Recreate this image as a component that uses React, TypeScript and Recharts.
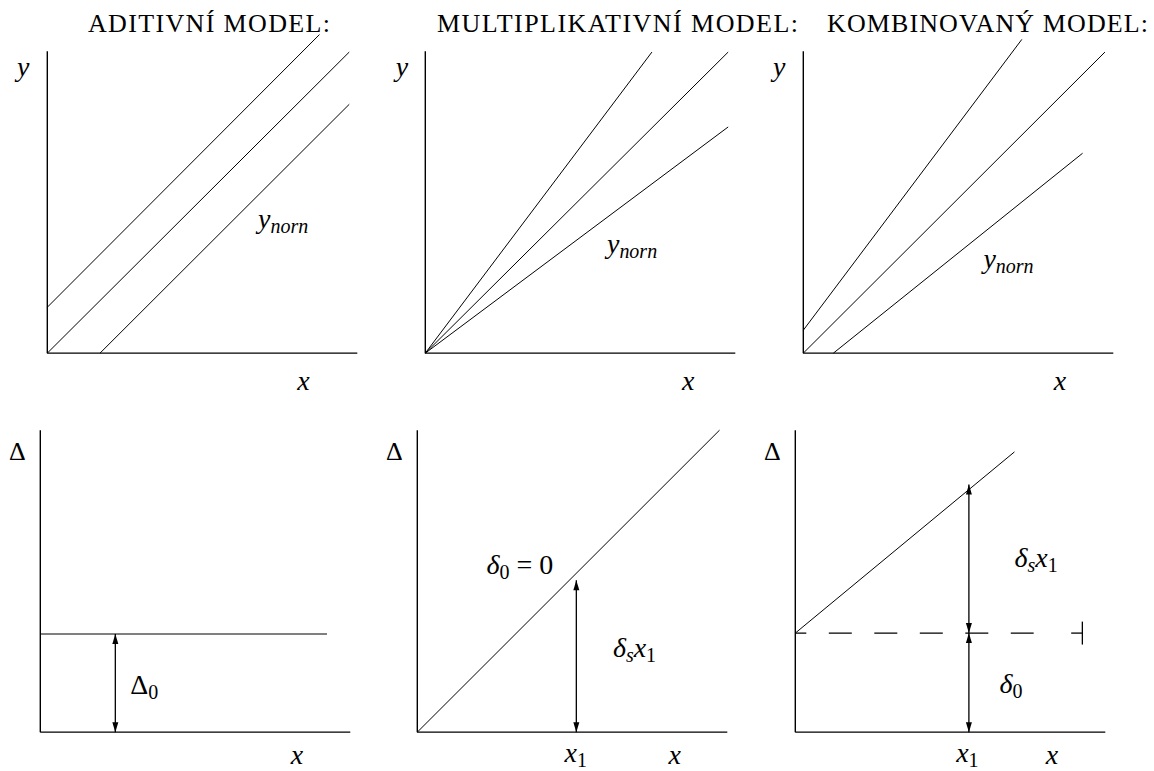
import React from 'react';
import { LineChart, Line, XAxis, YAxis, ReferenceLine, ReferenceDot } from 'recharts';

type Pt = { x: number; y: number };

// size of one unit on each axis, px
const UX = 31;
const UY = 30.2;
const X_MIN = -1.3;
const X_MAX = 10.7;
const Y_MIN = -1.6;
const Y_MAX = 10.8;
const AXIS_LEN = 10;

const FONT = '"Liberation Serif", "Times New Roman", serif';
const MATH_SIZE = 28;
const SUB_SIZE = 20;

const titles = ['ADITIVNÍ MODEL:', 'MULTIPLIKATIVNÍ MODEL:', 'KOMBINOVANÝ MODEL:'];
const titleX = [88, 437, 827];
const titleW = [242, 361, 321];

// y against x, top row
const additiveLines: Pt[][] = [
  [{ x: 0, y: 1.52 }, { x: 8.78, y: 10.55 }],
  [{ x: 0, y: 0 }, { x: 9.74, y: 9.97 }],
  [{ x: 1.7, y: 0 }, { x: 9.74, y: 8.24 }],
];
const multiplicativeLines: Pt[][] = [
  [{ x: 0, y: 0 }, { x: 7.31, y: 9.97 }],
  [{ x: 0, y: 0 }, { x: 9.77, y: 9.97 }],
  [{ x: 0, y: 0 }, { x: 9.77, y: 7.49 }],
];
const combinedLines: Pt[][] = [
  [{ x: 0, y: 0.76 }, { x: 7.05, y: 10.39 }],
  [{ x: 0, y: 0 }, { x: 9.73, y: 9.97 }],
  [{ x: 0.97, y: 0 }, { x: 9.01, y: 6.62 }],
];

// Δ against x, bottom row
const additiveDelta0 = 3.25;
const additiveDeltaEnd = 9.25;
const additiveArrowX = 2.42;

const multiplicativeDelta: Pt[] = [{ x: 0, y: 0 }, { x: 9.75, y: 10 }];
const multiplicativeX1 = 5.13;
const multiplicativeArrowTop = 5.03;

const combinedDelta0 = 3.28;
const combinedDelta: Pt[] = [{ x: 0, y: 3.28 }, { x: 7.07, y: 9.28 }];
const combinedDashEnd = 7.69;
const combinedTailStart = 8.9;
const combinedTailEnd = 9.26;
const combinedTick = 0.38;
const combinedX1 = 5.6;
const combinedArrowTop = 8.2;

const HEAD_LEN = 10;
const HEAD_HALF = 3;

function arrowHead(tx: number, ty: number, dx: number, dy: number) {
  const bx = tx - dx * HEAD_LEN;
  const by = ty - dy * HEAD_LEN;
  return `${tx},${ty} ${bx - dy * HEAD_HALF},${by + dx * HEAD_HALF} ${bx + dy * HEAD_HALF},${by - dx * HEAD_HALF}`;
}

// double-headed arrow between the two ends of a reference segment
function ArrowShape(props: any) {
  const { x1, y1, x2, y2 } = props;
  const len = Math.hypot(x2 - x1, y2 - y1) || 1;
  const ux = (x2 - x1) / len;
  const uy = (y2 - y1) / len;
  return (
    <g>
      <line x1={x1} y1={y1} x2={x2} y2={y2} stroke="#000" strokeWidth={1.3} />
      <polygon points={arrowHead(x2, y2, ux, uy)} fill="#000" />
      <polygon points={arrowHead(x1, y1, -ux, -uy)} fill="#000" />
    </g>
  );
}

const it = (s: string) => <tspan fontStyle="italic">{s}</tspan>;
const sub = (s: string, italic = true) => (
  <tspan fontSize={SUB_SIZE} dy={5} fontStyle={italic ? 'italic' : 'normal'}>{s}</tspan>
);

function label(key: string, x: number, y: number, content: React.ReactNode, anchor: 'start' | 'middle' = 'start', size = MATH_SIZE) {
  return (
    <ReferenceDot
      key={key}
      x={x}
      y={y}
      r={0}
      ifOverflow="visible"
      shape={(p: any) => (
        <text x={p.cx} y={p.cy} textAnchor={anchor} style={{ fontFamily: FONT, fontSize: size }} fill="#000">
          {content}
        </text>
      )}
    />
  );
}

function axes(key: string) {
  return [
    <ReferenceLine key={key + '-x'} segment={[{ x: 0, y: 0 }, { x: AXIS_LEN, y: 0 }]} stroke="#000" strokeWidth={1.4} ifOverflow="visible" />,
    <ReferenceLine key={key + '-y'} segment={[{ x: 0, y: 0 }, { x: 0, y: AXIS_LEN }]} stroke="#000" strokeWidth={1.4} ifOverflow="visible" />,
  ];
}

function lines(key: string, set: Pt[][]) {
  return set.map((d, i) => (
    <Line key={key + i} data={d} dataKey="y" type="linear" stroke="#000" strokeWidth={1} dot={false} isAnimationActive={false} />
  ));
}

function arrow(key: string, x: number, y0: number, y1: number) {
  return (
    <ReferenceLine key={key} segment={[{ x, y: y1 }, { x, y: y0 }]} ifOverflow="visible" shape={ArrowShape} />
  );
}

const yLabel = (key: string, x: number) => label(key, x, 9.17, it('y'), 'middle');
const xLabel = (key: string, x: number, y = -1.23) => label(key, x, y, it('x'), 'middle');
const deltaLabel = (key: string) => label(key, -0.74, 9.0, 'Δ', 'middle', 26);
const yNorn = (key: string, x: number, y: number) => label(key, x, y, <>{it('y')}{sub('norn')}</>);
const x1Label = (key: string, x: number) => label(key, x, -0.98, <>{it('x')}{sub('1', false)}</>);
const dsx1 = (key: string, x: number, y: number) =>
  label(key, x, y, <>{it('δ')}{sub('s')}<tspan fontStyle="italic" dy={-5}>x</tspan>{sub('1', false)}</>);

function Panel({ ox, oy, children }: { ox: number; oy: number; children: React.ReactNode }) {
  const width = (X_MAX - X_MIN) * UX;
  const height = (Y_MAX - Y_MIN) * UY;
  return (
    <div style={{ position: 'absolute', left: ox + X_MIN * UX, top: oy - Y_MAX * UY }}>
      <LineChart width={width} height={height} margin={{ top: 0, right: 0, bottom: 0, left: 0 }}>
        <XAxis type="number" dataKey="x" domain={[X_MIN, X_MAX]} hide allowDataOverflow />
        <YAxis type="number" domain={[Y_MIN, Y_MAX]} hide allowDataOverflow />
        {children}
      </LineChart>
    </div>
  );
}

export default function App() {
  return (
    <div style={{ position: 'absolute', left: 0, top: 0, width: 1154, height: 771, background: '#fff', overflow: 'hidden' }}>
      <svg width={1154} height={50} style={{ position: 'absolute', left: 0, top: 0 }}>
        {titles.map((t, i) => (
          <text key={t} x={titleX[i]} y={32} style={{ fontFamily: FONT, fontSize: 26 }} fill="#000" textLength={titleW[i]} lengthAdjust="spacing">
            {t}
          </text>
        ))}
      </svg>

      <Panel ox={47.3} oy={353}>
        {axes('a')}
        {lines('a', additiveLines)}
        {yLabel('ay', -0.78)}
        {xLabel('ax', 8.26)}
        {yNorn('an', 6.8, 4.14)}
      </Panel>

      <Panel ox={425} oy={353}>
        {axes('m')}
        {lines('m', multiplicativeLines)}
        {yLabel('my', -0.75)}
        {xLabel('mx', 8.48)}
        {yNorn('mn', 5.86, 3.31)}
      </Panel>

      <Panel ox={803.3} oy={353}>
        {axes('k')}
        {lines('k', combinedLines)}
        {yLabel('ky', -0.78)}
        {xLabel('kx', 8.28)}
        {yNorn('kn', 5.81, 2.81)}
      </Panel>

      <Panel ox={40} oy={731.7}>
        {axes('ad')}
        <ReferenceLine segment={[{ x: 0, y: additiveDelta0 }, { x: additiveDeltaEnd, y: additiveDelta0 }]} stroke="#000" strokeWidth={1.2} ifOverflow="visible" />
        {arrow('ad-arrow', additiveArrowX, 0, additiveDelta0)}
        {deltaLabel('ad-d')}
        {label('ad-d0', 2.9, 1.27, <>Δ{sub('0', false)}</>)}
        {xLabel('ad-x', 8.28, -1.05)}
      </Panel>

      <Panel ox={417.7} oy={731.7}>
        {axes('md')}
        <Line data={multiplicativeDelta} dataKey="y" type="linear" stroke="#000" strokeWidth={1} dot={false} isAnimationActive={false} />
        {arrow('md-arrow', multiplicativeX1, 0, multiplicativeArrowTop)}
        {deltaLabel('md-d')}
        {label('md-d0', 2.23, 5.24, <>{it('δ')}{sub('0', false)}<tspan dy={-5}> = 0</tspan></>)}
        {dsx1('md-sx', 6.31, 2.48)}
        {x1Label('md-x1', 4.75)}
        {xLabel('md-x', 8.3, -1.05)}
      </Panel>

      <Panel ox={795.7} oy={731.7}>
        {axes('kd')}
        <Line data={combinedDelta} dataKey="y" type="linear" stroke="#000" strokeWidth={1} dot={false} isAnimationActive={false} />
        <ReferenceLine
          segment={[{ x: 0, y: combinedDelta0 }, { x: combinedDashEnd, y: combinedDelta0 }]}
          stroke="#000"
          strokeWidth={1.3}
          strokeDasharray="23 22.5"
          strokeDashoffset={12}
          ifOverflow="visible"
        />
        <ReferenceLine segment={[{ x: combinedTailStart, y: combinedDelta0 }, { x: combinedTailEnd, y: combinedDelta0 }]} stroke="#000" strokeWidth={1.3} ifOverflow="visible" />
        <ReferenceLine
          segment={[{ x: combinedTailEnd, y: combinedDelta0 - combinedTick }, { x: combinedTailEnd, y: combinedDelta0 + combinedTick }]}
          stroke="#000"
          strokeWidth={1.3}
          ifOverflow="visible"
        />
        {arrow('kd-up', combinedX1, combinedDelta0, combinedArrowTop)}
        {arrow('kd-low', combinedX1, 0, combinedDelta0)}
        {deltaLabel('kd-d')}
        {dsx1('kd-sx', 7.07, 5.46)}
        {label('kd-d0', 6.59, 1.28, <>{it('δ')}{sub('0', false)}</>)}
        {x1Label('kd-x1', 5.19)}
        {xLabel('kd-x', 8.28, -1.05)}
      </Panel>
    </div>
  );
}
